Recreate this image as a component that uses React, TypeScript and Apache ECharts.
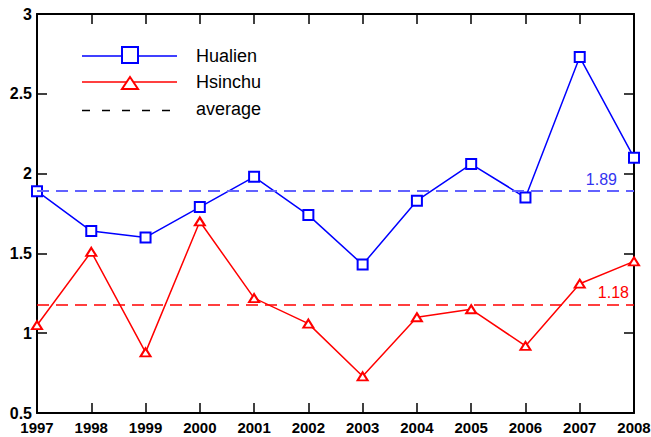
import React, { useEffect, useRef } from "react";
import * as echarts from "echarts";

// Years on the horizontal axis
const years = ["1997", "1998", "1999", "2000", "2001", "2002", "2003", "2004", "2005", "2006", "2007", "2008"];

// Yearly values for each station
const hualien = [1.89, 1.64, 1.6, 1.79, 1.98, 1.74, 1.43, 1.83, 2.06, 1.85, 2.73, 2.1];
const hsinchu = [1.05, 1.51, 0.88, 1.7, 1.22, 1.06, 0.73, 1.1, 1.15, 0.92, 1.31, 1.45];

// Averages shown as dashed reference lines
const avgHualien = 1.89;
const avgHsinchu = 1.18;

// Value axis range
const yMin = 0.5;
const yMax = 3;
const yStep = 0.5;

const FONT = "'Liberation Sans', Arial, Helvetica, sans-serif";
const BLUE = "#0000ff";
const RED = "#ff0000";

export default function App() {
  const ref = useRef<HTMLDivElement>(null);

  useEffect(() => {
    if (!ref.current) return;
    const chart = echarts.init(ref.current, undefined, { renderer: "svg" });

    const tick = { show: true, inside: true, length: 10, lineStyle: { color: "#000", width: 1.5 } };
    const axisLine = { show: true, onZero: false, lineStyle: { color: "#000", width: 2 } };

    chart.setOption({
      animation: false,
      backgroundColor: "#fff",
      grid: { left: 37, right: 17, top: 14, bottom: 24, containLabel: false, outerBoundsMode: "none" },
      xAxis: [
        {
          type: "category",
          data: years,
          boundaryGap: false,
          position: "bottom",
          axisLine,
          axisTick: { ...tick, alignWithLabel: true },
          axisLabel: {
            color: "#000",
            fontFamily: FONT,
            fontWeight: "bold",
            fontSize: 15,
            lineHeight: 14,
            margin: 7,
          },
          splitLine: { show: false },
        },
        {
          type: "category",
          data: years,
          boundaryGap: false,
          position: "top",
          axisLine,
          axisTick: { ...tick, alignWithLabel: true },
          axisLabel: { show: false },
          splitLine: { show: false },
        },
      ],
      yAxis: [
        {
          type: "value",
          min: yMin,
          max: yMax,
          interval: yStep,
          position: "left",
          axisLine,
          axisTick: tick,
          axisLabel: {
            color: "#000",
            fontFamily: FONT,
            fontWeight: "bold",
            fontSize: 16,
            lineHeight: 12,
            margin: 5,
            formatter: (v: number) => String(v),
          },
          splitLine: { show: false },
        },
        {
          type: "value",
          min: yMin,
          max: yMax,
          interval: yStep,
          position: "right",
          axisLine,
          axisTick: tick,
          axisLabel: { show: false },
          splitLine: { show: false },
        },
      ],
      series: [
        {
          name: "Hualien",
          type: "line",
          data: hualien,
          color: BLUE,
          symbol: "emptyRect",
          symbolSize: 10,
          lineStyle: { color: BLUE, width: 1.5 },
          itemStyle: { color: BLUE, borderColor: BLUE, borderWidth: 2 },
          z: 3,
          markLine: {
            silent: true,
            symbol: ["none", "none"],
            data: [{ yAxis: avgHualien }],
            lineStyle: { color: "#6262ff", type: [12, 7], width: 2 },
            label: {
              show: true,
              position: "insideEndTop",
              distance: [17, 4],
              formatter: avgHualien.toFixed(2),
              color: "#3434f0",
              fontFamily: FONT,
              fontSize: 16,
            },
          },
        },
        {
          name: "Hsinchu",
          type: "line",
          data: hsinchu,
          color: RED,
          symbol: "emptyTriangle",
          symbolSize: [10, 8],
          lineStyle: { color: RED, width: 1.5 },
          itemStyle: { color: RED, borderColor: RED, borderWidth: 1.8 },
          z: 3,
          markLine: {
            silent: true,
            symbol: ["none", "none"],
            data: [{ yAxis: avgHsinchu }],
            lineStyle: { color: RED, type: [12, 7], width: 1.5 },
            label: {
              show: true,
              position: "insideEndTop",
              distance: [5, 4],
              formatter: avgHsinchu.toFixed(2),
              color: RED,
              fontFamily: FONT,
              fontSize: 16,
            },
          },
        },
      ],
      graphic: [
        // legend: Hualien
        { type: "line", shape: { x1: 82, y1: 56, x2: 177, y2: 56 }, style: { stroke: BLUE, lineWidth: 1.5 } },
        { type: "rect", shape: { x: 122, y: 47, width: 16, height: 16 }, style: { fill: "#fff", stroke: BLUE, lineWidth: 2 } },
        { type: "text", x: 196, y: 56, style: { text: "Hualien", fill: "#000", font: `18px ${FONT}`, textVerticalAlign: "middle" } },
        // legend: Hsinchu
        { type: "line", shape: { x1: 82, y1: 82, x2: 177, y2: 82 }, style: { stroke: RED, lineWidth: 1.5 } },
        {
          type: "polygon",
          shape: { points: [[130, 77], [122, 89], [138, 89]] },
          style: { fill: "#fff", stroke: RED, lineWidth: 2 },
        },
        { type: "text", x: 196, y: 82, style: { text: "Hsinchu", fill: "#000", font: `18px ${FONT}`, textVerticalAlign: "middle" } },
        // legend: average
        {
          type: "line",
          shape: { x1: 82, y1: 110.5, x2: 174, y2: 110.5 },
          style: { stroke: "#000", lineWidth: 1.5, lineDash: [8, 12] },
        },
        { type: "text", x: 196, y: 109, style: { text: "average", fill: "#000", font: `18px ${FONT}`, textVerticalAlign: "middle" } },
      ],
    });

    return () => chart.dispose();
  }, []);

  return <div ref={ref} style={{ position: "fixed", left: 0, top: 0, width: 651, height: 437 }} />;
}
